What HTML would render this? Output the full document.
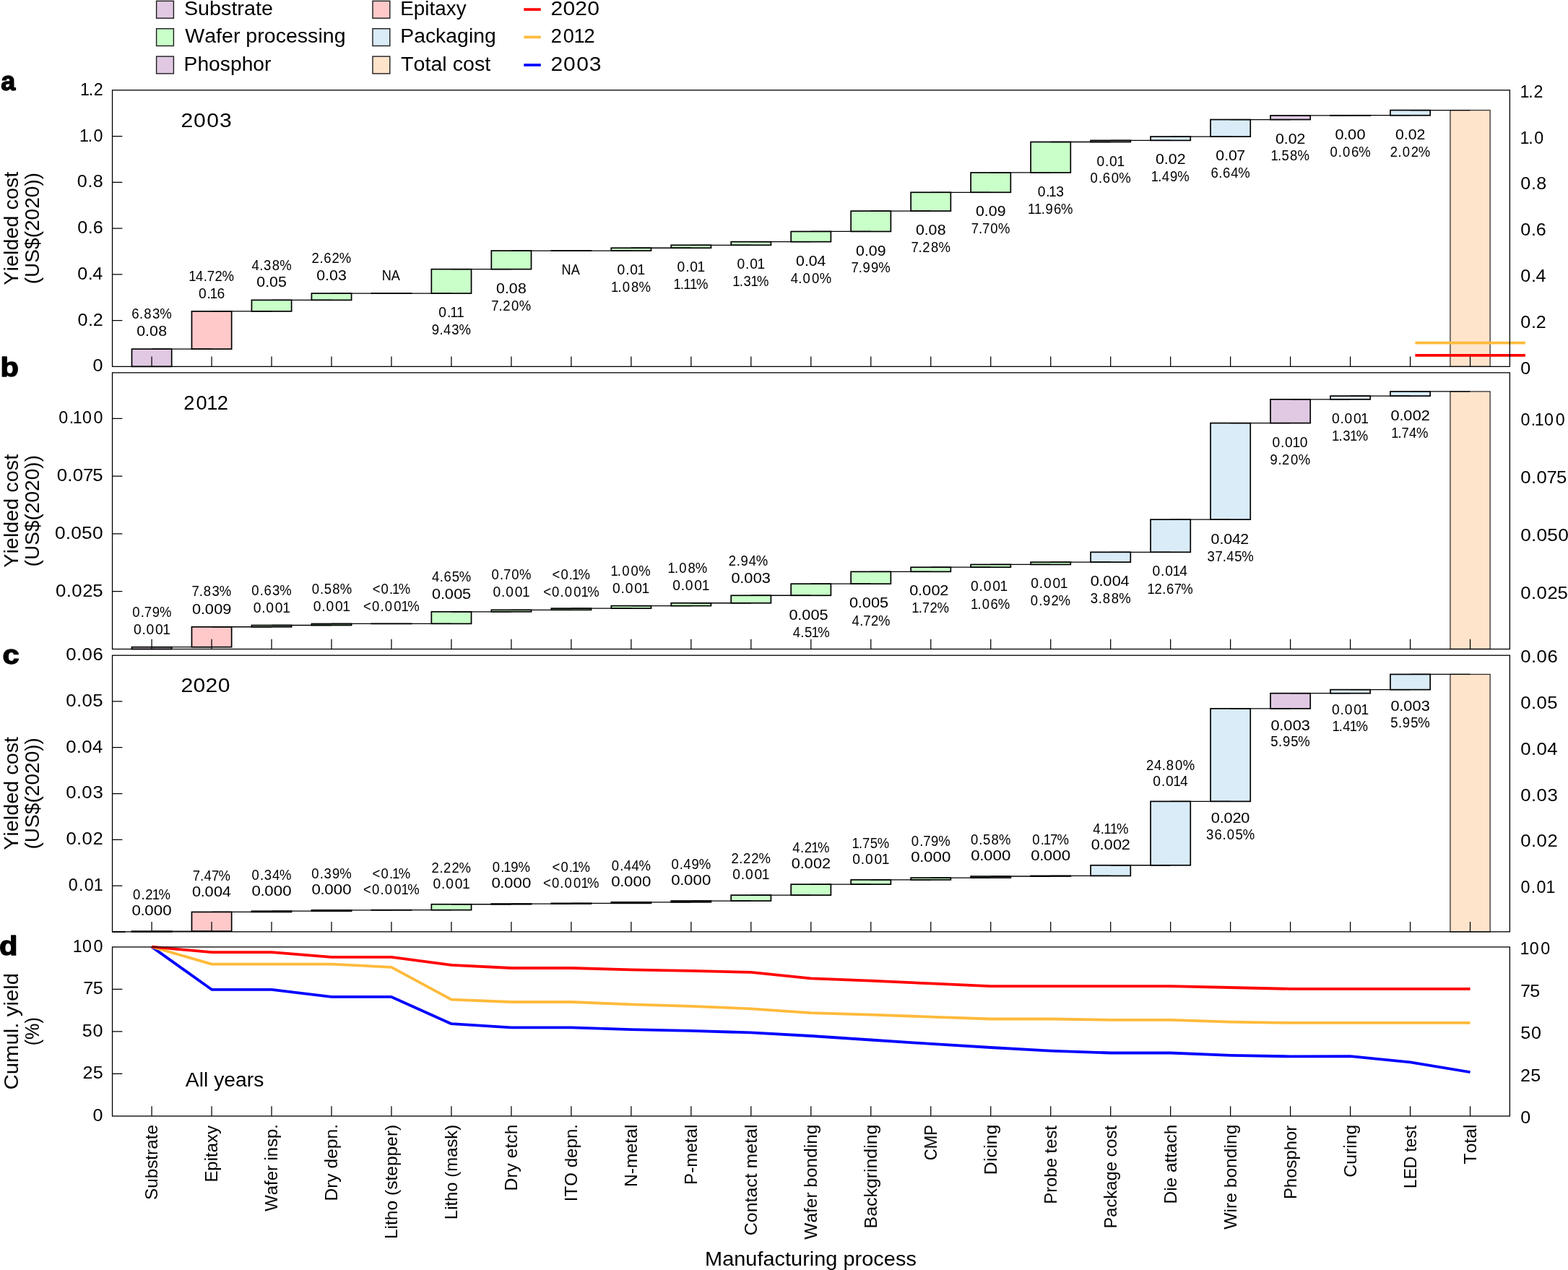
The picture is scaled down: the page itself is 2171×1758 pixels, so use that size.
<!DOCTYPE html>
<html lang="en">
<head>
<meta charset="utf-8">
<title>LED manufacturing cost waterfall by process step</title>
<style>
html,body{margin:0;padding:0;background:#fff;}
body{width:2171px;height:1758px;overflow:hidden;}
svg{display:block;}
text{font-family:"Liberation Sans", sans-serif;fill:#000;white-space:pre;}
</style>
</head>
<body>
<svg width="2171" height="1758" viewBox="0 0 2171 1758">
<rect x="0" y="0" width="2171" height="1758" fill="#fff"/>
<rect x="216.60" y="1.40" width="23.8" height="23.8" fill="#e1c9e3" stroke="#1c1c1c" stroke-width="1.4"/>
<rect x="216.60" y="39.70" width="23.8" height="23.8" fill="#c9ffc9" stroke="#1c1c1c" stroke-width="1.4"/>
<rect x="216.60" y="78.10" width="23.8" height="23.8" fill="#e1c9e3" stroke="#1c1c1c" stroke-width="1.4"/>
<rect x="516.00" y="1.40" width="23.8" height="23.8" fill="#ffc9c9" stroke="#1c1c1c" stroke-width="1.4"/>
<rect x="516.00" y="39.70" width="23.8" height="23.8" fill="#d9ecf8" stroke="#1c1c1c" stroke-width="1.4"/>
<rect x="516.00" y="78.10" width="23.8" height="23.8" fill="#ffe4cc" stroke="#1c1c1c" stroke-width="1.4"/>
<text x="242.19 260.40 275.58 290.76 304.41 312.00 321.09 336.27 343.86" y="20.90" font-size="27.3" transform="scale(1.0525 1)">Substrate</text>
<text x="244.71 270.48 285.66 293.24 308.43 317.52 325.10 340.29 349.38 364.56 378.21 393.39 407.04 420.69 426.76 441.94" y="59.30" font-size="27.3" transform="scale(1.0469 1)">Wafer processing</text>
<text x="246.12 264.33 279.51 294.69 308.34 323.52 338.71 353.89" y="97.70" font-size="27.3" transform="scale(1.0344 1)">Phosphor</text>
<text x="543.21 561.41 576.60 582.66 590.25 605.43 619.08" y="20.90" font-size="27.3" transform="scale(1.0203 1)">Epitaxy</text>
<text x="532.98 551.19 566.37 580.02 593.67 608.85 624.04 630.10 645.29" y="59.30" font-size="27.3" transform="scale(1.0398 1)">Packaging</text>
<text x="528.13 544.81 559.99 567.58 582.76 588.83 596.41 610.06 625.24 638.89" y="97.70" font-size="27.3" transform="scale(1.0508 1)">Total cost</text>
<text x="717.83 733.78 749.73 765.68" y="20.90" font-size="28.4" transform="scale(1.0622 1)">2020</text>
<text x="793.36 811.09 826.41 841.17" y="59.30" font-size="28.4" transform="scale(0.9613 1)">2012</text>
<text x="717.83 734.26 751.48 768.07" y="97.70" font-size="28.4" transform="scale(1.0622 1)">2003</text>
<line x1="725.3" x2="748.8" y1="13.1" y2="13.1" stroke="#ff0000" stroke-width="3.7"/>
<line x1="725.3" x2="748.8" y1="51.4" y2="51.4" stroke="#ffba3b" stroke-width="3.7"/>
<line x1="725.3" x2="748.8" y1="90.0" y2="90.0" stroke="#0000ff" stroke-width="3.7"/>
<rect x="182.48" y="483.16" width="55.2" height="24.24" fill="#e1c9e3" stroke="#000" stroke-width="1.7"/>
<rect x="265.46" y="430.93" width="55.2" height="52.23" fill="#ffc9c9" stroke="#000" stroke-width="1.7"/>
<rect x="348.43" y="415.39" width="55.2" height="15.54" fill="#c9ffc9" stroke="#000" stroke-width="1.7"/>
<rect x="431.41" y="406.09" width="55.2" height="9.30" fill="#c9ffc9" stroke="#000" stroke-width="1.7"/>
<rect x="514.38" y="406.09" width="55.2" height="0.01" fill="#c9ffc9" stroke="#000" stroke-width="1.7"/>
<rect x="597.36" y="372.63" width="55.2" height="33.46" fill="#c9ffc9" stroke="#000" stroke-width="1.7"/>
<rect x="680.34" y="347.08" width="55.2" height="25.55" fill="#c9ffc9" stroke="#000" stroke-width="1.7"/>
<rect x="763.31" y="347.08" width="55.2" height="0.01" fill="#c9ffc9" stroke="#000" stroke-width="1.7"/>
<rect x="846.29" y="343.25" width="55.2" height="3.83" fill="#c9ffc9" stroke="#000" stroke-width="1.7"/>
<rect x="929.26" y="339.31" width="55.2" height="3.94" fill="#c9ffc9" stroke="#000" stroke-width="1.7"/>
<rect x="1012.24" y="334.66" width="55.2" height="4.65" fill="#c9ffc9" stroke="#000" stroke-width="1.7"/>
<rect x="1095.22" y="320.47" width="55.2" height="14.19" fill="#c9ffc9" stroke="#000" stroke-width="1.7"/>
<rect x="1178.19" y="292.11" width="55.2" height="28.35" fill="#c9ffc9" stroke="#000" stroke-width="1.7"/>
<rect x="1261.17" y="266.28" width="55.2" height="25.83" fill="#c9ffc9" stroke="#000" stroke-width="1.7"/>
<rect x="1344.14" y="238.96" width="55.2" height="27.32" fill="#c9ffc9" stroke="#000" stroke-width="1.7"/>
<rect x="1427.12" y="196.52" width="55.2" height="42.44" fill="#c9ffc9" stroke="#000" stroke-width="1.7"/>
<rect x="1510.10" y="194.39" width="55.2" height="2.13" fill="#d9ecf8" stroke="#000" stroke-width="1.7"/>
<rect x="1593.07" y="189.10" width="55.2" height="5.29" fill="#d9ecf8" stroke="#000" stroke-width="1.7"/>
<rect x="1676.05" y="165.54" width="55.2" height="23.56" fill="#d9ecf8" stroke="#000" stroke-width="1.7"/>
<rect x="1759.02" y="159.93" width="55.2" height="5.61" fill="#e1c9e3" stroke="#000" stroke-width="1.7"/>
<rect x="1842.00" y="159.72" width="55.2" height="0.21" fill="#d9ecf8" stroke="#000" stroke-width="1.7"/>
<rect x="1924.98" y="152.55" width="55.2" height="7.17" fill="#d9ecf8" stroke="#000" stroke-width="1.7"/>
<rect x="2007.95" y="152.55" width="55.2" height="354.85" fill="#ffe4cc" stroke="#35312e" stroke-width="1.3"/>
<path d="M210.08 483.16H293.06M293.06 430.93H376.03M376.03 415.39H459.01M459.01 406.09H541.98M541.98 406.09H624.96M624.96 372.63H707.94M707.94 347.08H790.91M790.91 347.08H873.89M873.89 343.25H956.86M956.86 339.31H1039.84M1039.84 334.66H1122.82M1122.82 320.47H1205.79M1205.79 292.11H1288.77M1288.77 266.28H1371.74M1371.74 238.96H1454.72M1454.72 196.52H1537.70M1537.70 194.39H1620.67M1620.67 189.10H1703.65M1703.65 165.54H1786.62M1786.62 159.93H1869.60M1869.60 159.72H1952.58M1952.58 152.55H2035.55" stroke="#000" stroke-width="1.3" fill="none"/>
<text x="189.83 201.18 207.44 219.72 230.38" y="441.41" font-size="19.3" transform="scale(0.9600 1)">6.83%</text>
<text x="171.25 181.94 187.25 198.34" y="465.21" font-size="19.3" transform="scale(1.1050 1)">0.08</text>
<text x="272.22 282.33 293.42 298.69 309.84 320.37" y="389.18" font-size="19.3" transform="scale(0.9600 1)">14.72%</text>
<text x="275.01 286.54 290.50 300.46" y="412.98" font-size="19.3">0.16</text>
<text x="363.10 374.18 380.23 392.52 403.39" y="373.64" font-size="19.3" transform="scale(0.9600 1)">4.38%</text>
<text x="321.60 332.29 337.61 348.32" y="397.44" font-size="19.3" transform="scale(1.1050 1)">0.05</text>
<text x="449.58 460.88 466.85 478.71 489.24" y="364.34" font-size="19.3" transform="scale(0.9600 1)">2.62%</text>
<text x="396.62 407.31 412.62 423.52" y="388.14" font-size="19.3" transform="scale(1.1050 1)">0.03</text>
<text x="562.40 576.34" y="388.14" font-size="19.3" transform="scale(0.9400 1)">NA</text>
<text x="607.36 618.89 623.14 632.01" y="439.14" font-size="19.3">0.11</text>
<text x="622.55 633.97 639.68 651.41 662.07" y="463.04" font-size="19.3" transform="scale(0.9600 1)">9.43%</text>
<text x="621.80 632.49 637.80 648.88" y="405.68" font-size="19.3" transform="scale(1.1050 1)">0.08</text>
<text x="708.65 719.29 725.21 737.63 748.76" y="429.58" font-size="19.3" transform="scale(0.9600 1)">7.20%</text>
<text x="827.22 841.16" y="380.13" font-size="19.3" transform="scale(0.9400 1)">NA</text>
<text x="854.62 866.15 872.31 882.61" y="380.13" font-size="19.3">0.01</text>
<text x="881.35 891.16 897.68 910.44 921.31" y="404.03" font-size="19.3" transform="scale(0.9600 1)">1.08%</text>
<text x="937.60 949.13 955.28 965.58" y="376.30" font-size="19.3">0.01</text>
<text x="971.30 981.11 985.64 994.88 1004.22" y="400.20" font-size="19.3" transform="scale(0.9600 1)">1.11%</text>
<text x="1020.58 1032.10 1038.26 1048.56" y="372.36" font-size="19.3">0.01</text>
<text x="1056.62 1066.42 1072.48 1082.73 1091.77" y="396.26" font-size="19.3" transform="scale(0.9600 1)">1.31%</text>
<text x="997.36 1008.05 1013.36 1023.97" y="367.71" font-size="19.3" transform="scale(1.1050 1)">0.04</text>
<text x="1140.26 1151.35 1157.87 1170.89 1182.02" y="391.61" font-size="19.3" transform="scale(0.9600 1)">4.00%</text>
<text x="1072.48 1083.17 1088.48 1099.37" y="353.52" font-size="19.3" transform="scale(1.1050 1)">0.09</text>
<text x="1227.61 1238.25 1244.29 1256.35 1266.99" y="377.42" font-size="19.3" transform="scale(0.9600 1)">7.99%</text>
<text x="1147.44 1158.13 1163.44 1174.52" y="325.16" font-size="19.3" transform="scale(1.1050 1)">0.08</text>
<text x="1313.94 1324.58 1330.51 1342.66 1353.53" y="349.06" font-size="19.3" transform="scale(0.9600 1)">7.28%</text>
<text x="1222.66 1233.35 1238.67 1249.56" y="299.33" font-size="19.3" transform="scale(1.1050 1)">0.09</text>
<text x="1400.77 1411.41 1416.68 1428.44 1439.57" y="323.23" font-size="19.3" transform="scale(0.9600 1)">7.70%</text>
<text x="1436.64 1448.17 1452.12 1462.16" y="272.01" font-size="19.3">0.13</text>
<text x="1482.39 1491.63 1501.74 1507.78 1519.76 1530.34" y="295.91" font-size="19.3" transform="scale(0.9600 1)">11.96%</text>
<text x="1518.43 1529.96 1536.12 1546.41" y="229.57" font-size="19.3">0.01</text>
<text x="1572.42 1584.32 1590.29 1602.76 1613.88" y="253.47" font-size="19.3" transform="scale(0.9600 1)">0.60%</text>
<text x="1448.02 1458.71 1464.02 1474.81" y="227.44" font-size="19.3" transform="scale(1.1050 1)">0.02</text>
<text x="1660.28 1670.09 1675.80 1687.52 1698.17" y="251.34" font-size="19.3" transform="scale(0.9600 1)">1.49%</text>
<text x="1523.39 1534.08 1539.40 1549.62" y="222.15" font-size="19.3" transform="scale(1.1050 1)">0.07</text>
<text x="1746.26 1757.61 1763.58 1775.23 1785.55" y="246.05" font-size="19.3" transform="scale(0.9600 1)">6.64%</text>
<text x="1598.20 1608.89 1614.20 1624.99" y="198.59" font-size="19.3" transform="scale(1.1050 1)">0.02</text>
<text x="1832.80 1842.61 1848.45 1860.52 1871.39" y="222.49" font-size="19.3" transform="scale(0.9600 1)">1.58%</text>
<text x="1635.79 1646.30 1651.44 1662.50" y="192.98" font-size="19.3" transform="scale(1.1300 1)">0.00</text>
<text x="1918.15 1930.05 1936.58 1949.04 1959.62" y="216.88" font-size="19.3" transform="scale(0.9600 1)">0.06%</text>
<text x="1748.38 1759.07 1764.39 1775.17" y="192.77" font-size="19.3" transform="scale(1.1050 1)">0.02</text>
<text x="2004.83 2016.13 2022.65 2035.06 2045.59" y="216.67" font-size="19.3" transform="scale(0.9600 1)">2.02%</text>
<rect x="182.48" y="895.68" width="55.2" height="2.82" fill="#e1c9e3" stroke="#000" stroke-width="1.7"/>
<rect x="265.46" y="867.77" width="55.2" height="27.92" fill="#ffc9c9" stroke="#000" stroke-width="1.7"/>
<rect x="348.43" y="865.52" width="55.2" height="2.25" fill="#c9ffc9" stroke="#000" stroke-width="1.7"/>
<rect x="431.41" y="863.45" width="55.2" height="2.07" fill="#c9ffc9" stroke="#000" stroke-width="1.7"/>
<rect x="514.38" y="863.38" width="55.2" height="0.07" fill="#c9ffc9" stroke="#000" stroke-width="1.7"/>
<rect x="597.36" y="846.80" width="55.2" height="16.58" fill="#c9ffc9" stroke="#000" stroke-width="1.7"/>
<rect x="680.34" y="844.30" width="55.2" height="2.50" fill="#c9ffc9" stroke="#000" stroke-width="1.7"/>
<rect x="763.31" y="842.17" width="55.2" height="2.14" fill="#c9ffc9" stroke="#000" stroke-width="1.7"/>
<rect x="846.29" y="838.60" width="55.2" height="3.57" fill="#c9ffc9" stroke="#000" stroke-width="1.7"/>
<rect x="929.26" y="834.75" width="55.2" height="3.85" fill="#c9ffc9" stroke="#000" stroke-width="1.7"/>
<rect x="1012.24" y="824.27" width="55.2" height="10.48" fill="#c9ffc9" stroke="#000" stroke-width="1.7"/>
<rect x="1095.22" y="808.19" width="55.2" height="16.08" fill="#c9ffc9" stroke="#000" stroke-width="1.7"/>
<rect x="1178.19" y="791.36" width="55.2" height="16.83" fill="#c9ffc9" stroke="#000" stroke-width="1.7"/>
<rect x="1261.17" y="785.22" width="55.2" height="6.13" fill="#c9ffc9" stroke="#000" stroke-width="1.7"/>
<rect x="1344.14" y="781.44" width="55.2" height="3.78" fill="#c9ffc9" stroke="#000" stroke-width="1.7"/>
<rect x="1427.12" y="778.16" width="55.2" height="3.28" fill="#c9ffc9" stroke="#000" stroke-width="1.7"/>
<rect x="1510.10" y="764.33" width="55.2" height="13.83" fill="#d9ecf8" stroke="#000" stroke-width="1.7"/>
<rect x="1593.07" y="719.16" width="55.2" height="45.17" fill="#d9ecf8" stroke="#000" stroke-width="1.7"/>
<rect x="1676.05" y="585.63" width="55.2" height="133.53" fill="#d9ecf8" stroke="#000" stroke-width="1.7"/>
<rect x="1759.02" y="552.82" width="55.2" height="32.80" fill="#e1c9e3" stroke="#000" stroke-width="1.7"/>
<rect x="1842.00" y="548.15" width="55.2" height="4.67" fill="#d9ecf8" stroke="#000" stroke-width="1.7"/>
<rect x="1924.98" y="541.95" width="55.2" height="6.20" fill="#d9ecf8" stroke="#000" stroke-width="1.7"/>
<rect x="2007.95" y="541.95" width="55.2" height="356.55" fill="#ffe4cc" stroke="#35312e" stroke-width="1.3"/>
<path d="M210.08 895.68H293.06M293.06 867.77H376.03M376.03 865.52H459.01M459.01 863.45H541.98M541.98 863.38H624.96M624.96 846.80H707.94M707.94 844.30H790.91M790.91 842.17H873.89M873.89 838.60H956.86M956.86 834.75H1039.84M1039.84 824.27H1122.82M1122.82 808.19H1205.79M1205.79 791.36H1288.77M1288.77 785.22H1371.74M1371.74 781.44H1454.72M1454.72 778.16H1537.70M1537.70 764.33H1620.67M1620.67 719.16H1703.65M1703.65 585.63H1786.62M1786.62 552.82H1869.60M1869.60 548.15H1952.58M1952.58 541.95H2035.55" stroke="#000" stroke-width="1.3" fill="none"/>
<text x="191.01 202.90 208.17 219.45 230.10" y="853.95" font-size="19.3" transform="scale(0.9600 1)">0.79%</text>
<text x="184.89 196.42 202.57 215.07 225.37" y="877.85" font-size="19.3">0.001</text>
<text x="276.66 287.30 293.56 305.85 316.50" y="825.45" font-size="19.3" transform="scale(0.9600 1)">7.83%</text>
<text x="235.41 245.93 251.06 262.12 272.77" y="849.55" font-size="19.3" transform="scale(1.1300 1)">0.009</text>
<text x="362.79 374.69 380.66 392.66 403.31" y="823.75" font-size="19.3" transform="scale(0.9600 1)">0.63%</text>
<text x="350.69 362.22 368.37 380.87 391.17" y="847.65" font-size="19.3">0.001</text>
<text x="449.69 461.59 467.43 479.50 490.37" y="821.85" font-size="19.3" transform="scale(0.9600 1)">0.58%</text>
<text x="433.79 445.32 451.47 463.97 474.27" y="845.75" font-size="19.3">0.001</text>
<text x="537.19 549.59 561.49 565.72 574.76" y="821.85" font-size="19.3" transform="scale(0.9600 1)">&lt;0.1%</text>
<text x="524.07 536.47 548.37 554.89 567.91 578.63 587.68" y="845.75" font-size="19.3" transform="scale(0.9600 1)">&lt;0.001%</text>
<text x="623.05 634.13 640.10 651.88 662.33" y="804.85" font-size="19.3" transform="scale(0.9600 1)">4.65%</text>
<text x="529.25 539.76 544.90 555.96 566.44" y="828.75" font-size="19.3" transform="scale(1.1300 1)">0.005</text>
<text x="708.86 720.75 726.02 737.79 748.92" y="801.65" font-size="19.3" transform="scale(0.9600 1)">0.70%</text>
<text x="682.49 694.02 700.17 712.67 722.97" y="825.65" font-size="19.3">0.001</text>
<text x="796.36 808.76 820.65 824.89 833.93" y="801.65" font-size="19.3" transform="scale(0.9600 1)">&lt;0.1%</text>
<text x="783.55 795.95 807.84 814.37 827.39 838.11 847.15" y="825.65" font-size="19.3" transform="scale(0.9600 1)">&lt;0.001%</text>
<text x="880.68 890.49 897.02 910.03 921.16" y="796.55" font-size="19.3" transform="scale(0.9600 1)">1.00%</text>
<text x="848.09 859.62 865.77 878.27 888.57" y="820.55" font-size="19.3">0.001</text>
<text x="963.03 972.84 979.36 992.12 1002.99" y="792.85" font-size="19.3" transform="scale(0.9600 1)">1.08%</text>
<text x="931.19 942.72 948.87 961.37 971.67" y="816.75" font-size="19.3">0.001</text>
<text x="1050.86 1062.16 1068.20 1079.92 1090.24" y="782.65" font-size="19.3" transform="scale(0.9600 1)">2.94%</text>
<text x="896.00 906.51 911.65 922.71 933.36" y="806.75" font-size="19.3" transform="scale(1.1300 1)">0.003</text>
<text x="966.78 977.29 982.43 993.48 1003.96" y="857.85" font-size="19.3" transform="scale(1.1300 1)">0.005</text>
<text x="1143.43 1154.52 1160.36 1170.40 1179.44" y="882.15" font-size="19.3" transform="scale(0.9600 1)">4.51%</text>
<text x="1040.67 1051.18 1056.32 1067.38 1077.86" y="841.45" font-size="19.3" transform="scale(1.1300 1)">0.005</text>
<text x="1228.67 1239.75 1245.02 1256.18 1266.71" y="865.65" font-size="19.3" transform="scale(0.9600 1)">4.72%</text>
<text x="1114.34 1124.85 1129.99 1141.05 1151.60" y="824.45" font-size="19.3" transform="scale(1.1300 1)">0.002</text>
<text x="1314.83 1324.64 1329.91 1341.07 1351.60" y="848.45" font-size="19.3" transform="scale(0.9600 1)">1.72%</text>
<text x="1344.09 1355.62 1361.77 1374.27 1384.57" y="818.15" font-size="19.3">0.001</text>
<text x="1399.99 1409.79 1416.32 1428.78 1439.36" y="842.65" font-size="19.3" transform="scale(0.9600 1)">1.06%</text>
<text x="1427.29 1438.82 1444.97 1457.47 1467.77" y="814.45" font-size="19.3">0.001</text>
<text x="1486.19 1498.08 1504.13 1516.06 1526.59" y="838.35" font-size="19.3" transform="scale(0.9600 1)">0.92%</text>
<text x="1336.00 1346.51 1351.65 1362.71 1373.08" y="811.25" font-size="19.3" transform="scale(1.1300 1)">0.004</text>
<text x="1572.75 1584.17 1590.43 1602.93 1613.80" y="835.45" font-size="19.3" transform="scale(0.9600 1)">3.88%</text>
<text x="1595.59 1607.12 1613.28 1623.58 1633.29" y="797.45" font-size="19.3">0.014</text>
<text x="1654.71 1665.04 1676.33 1682.30 1693.51 1703.39" y="821.55" font-size="19.3" transform="scale(0.9600 1)">12.67%</text>
<text x="1517.30 1527.99 1533.31 1543.91 1553.99" y="752.85" font-size="19.3" transform="scale(1.1050 1)">0.042</text>
<text x="1741.28 1752.57 1763.21 1768.92 1780.44 1790.89" y="777.05" font-size="19.3" transform="scale(0.9600 1)">37.45%</text>
<text x="1761.40 1772.92 1779.08 1789.38 1799.87" y="618.85" font-size="19.3">0.010</text>
<text x="1831.70 1843.12 1849.04 1861.46 1872.58" y="642.95" font-size="19.3" transform="scale(0.9600 1)">9.20%</text>
<text x="1843.89 1855.42 1861.57 1874.07 1884.37" y="585.85" font-size="19.3">0.001</text>
<text x="1920.85 1930.65 1936.71 1946.96 1956.00" y="610.05" font-size="19.3" transform="scale(0.9600 1)">1.31%</text>
<text x="1704.08 1714.59 1719.73 1730.79 1741.33" y="581.85" font-size="19.3" transform="scale(1.1300 1)">0.002</text>
<text x="2006.40 2016.21 2021.48 2032.42 2042.74" y="606.15" font-size="19.3" transform="scale(0.9600 1)">1.74%</text>
<rect x="182.48" y="1289.05" width="55.2" height="0.75" fill="#e1c9e3" stroke="#000" stroke-width="1.7"/>
<rect x="265.46" y="1262.43" width="55.2" height="26.62" fill="#ffc9c9" stroke="#000" stroke-width="1.7"/>
<rect x="348.43" y="1261.22" width="55.2" height="1.21" fill="#c9ffc9" stroke="#000" stroke-width="1.7"/>
<rect x="431.41" y="1259.83" width="55.2" height="1.39" fill="#c9ffc9" stroke="#000" stroke-width="1.7"/>
<rect x="514.38" y="1259.65" width="55.2" height="0.18" fill="#c9ffc9" stroke="#000" stroke-width="1.7"/>
<rect x="597.36" y="1251.74" width="55.2" height="7.91" fill="#c9ffc9" stroke="#000" stroke-width="1.7"/>
<rect x="680.34" y="1251.06" width="55.2" height="0.68" fill="#c9ffc9" stroke="#000" stroke-width="1.7"/>
<rect x="763.31" y="1250.35" width="55.2" height="0.71" fill="#c9ffc9" stroke="#000" stroke-width="1.7"/>
<rect x="846.29" y="1248.78" width="55.2" height="1.57" fill="#c9ffc9" stroke="#000" stroke-width="1.7"/>
<rect x="929.26" y="1247.03" width="55.2" height="1.75" fill="#c9ffc9" stroke="#000" stroke-width="1.7"/>
<rect x="1012.24" y="1239.12" width="55.2" height="7.91" fill="#c9ffc9" stroke="#000" stroke-width="1.7"/>
<rect x="1095.22" y="1224.12" width="55.2" height="15.00" fill="#c9ffc9" stroke="#000" stroke-width="1.7"/>
<rect x="1178.19" y="1217.88" width="55.2" height="6.24" fill="#c9ffc9" stroke="#000" stroke-width="1.7"/>
<rect x="1261.17" y="1215.07" width="55.2" height="2.82" fill="#c9ffc9" stroke="#000" stroke-width="1.7"/>
<rect x="1344.14" y="1213.00" width="55.2" height="2.07" fill="#c9ffc9" stroke="#000" stroke-width="1.7"/>
<rect x="1427.12" y="1212.39" width="55.2" height="0.61" fill="#c9ffc9" stroke="#000" stroke-width="1.7"/>
<rect x="1510.10" y="1197.75" width="55.2" height="14.65" fill="#d9ecf8" stroke="#000" stroke-width="1.7"/>
<rect x="1593.07" y="1109.36" width="55.2" height="88.38" fill="#d9ecf8" stroke="#000" stroke-width="1.7"/>
<rect x="1676.05" y="980.88" width="55.2" height="128.48" fill="#d9ecf8" stroke="#000" stroke-width="1.7"/>
<rect x="1759.02" y="959.68" width="55.2" height="21.20" fill="#e1c9e3" stroke="#000" stroke-width="1.7"/>
<rect x="1842.00" y="954.65" width="55.2" height="5.03" fill="#d9ecf8" stroke="#000" stroke-width="1.7"/>
<rect x="1924.98" y="933.45" width="55.2" height="21.20" fill="#d9ecf8" stroke="#000" stroke-width="1.7"/>
<rect x="2007.95" y="933.45" width="55.2" height="356.35" fill="#ffe4cc" stroke="#35312e" stroke-width="1.3"/>
<path d="M210.08 1289.05H293.06M293.06 1262.43H376.03M376.03 1261.22H459.01M459.01 1259.83H541.98M541.98 1259.65H624.96M624.96 1251.74H707.94M707.94 1251.06H790.91M790.91 1250.35H873.89M873.89 1248.78H956.86M956.86 1247.03H1039.84M1039.84 1239.12H1122.82M1122.82 1224.12H1205.79M1205.79 1217.88H1288.77M1288.77 1215.07H1371.74M1371.74 1213.00H1454.72M1454.72 1212.39H1537.70M1537.70 1197.75H1620.67M1620.67 1109.36H1703.65M1703.65 980.88H1786.62M1786.62 959.68H1869.60M1869.60 954.65H1952.58M1952.58 933.45H2035.55" stroke="#000" stroke-width="1.3" fill="none"/>
<text x="191.73 203.62 209.55 219.67 228.71" y="1245.40" font-size="19.3" transform="scale(0.9600 1)">0.21%</text>
<text x="158.05 168.39 173.36 184.18 195.00" y="1267.40" font-size="19.3" transform="scale(1.1550 1)">0.000</text>
<text x="277.95 288.59 294.30 305.25 315.12" y="1218.78" font-size="19.3" transform="scale(0.9600 1)">7.47%</text>
<text x="235.34 245.85 250.99 262.05 272.42" y="1240.78" font-size="19.3" transform="scale(1.1300 1)">0.004</text>
<text x="363.09 374.98 381.04 392.77 403.09" y="1217.57" font-size="19.3" transform="scale(0.9600 1)">0.34%</text>
<text x="301.73 312.07 317.04 327.86 338.68" y="1239.57" font-size="19.3" transform="scale(1.1550 1)">0.000</text>
<text x="449.19 461.09 467.14 479.20 489.85" y="1216.18" font-size="19.3" transform="scale(0.9600 1)">0.39%</text>
<text x="373.57 383.91 388.88 399.70 410.52" y="1238.18" font-size="19.3" transform="scale(1.1550 1)">0.000</text>
<text x="537.07 549.47 561.37 565.60 574.64" y="1216.00" font-size="19.3" transform="scale(0.9600 1)">&lt;0.1%</text>
<text x="524.05 536.45 548.35 554.87 567.89 578.62 587.66" y="1238.00" font-size="19.3" transform="scale(0.9600 1)">&lt;0.001%</text>
<text x="622.50 633.79 639.72 651.53 662.06" y="1208.09" font-size="19.3" transform="scale(0.9600 1)">2.22%</text>
<text x="599.45 610.98 617.13 629.63 639.93" y="1230.09" font-size="19.3">0.001</text>
<text x="710.21 722.10 726.34 736.78 747.43" y="1207.41" font-size="19.3" transform="scale(0.9600 1)">0.19%</text>
<text x="589.09 599.43 604.40 615.22 626.04" y="1229.41" font-size="19.3" transform="scale(1.1550 1)">0.000</text>
<text x="796.37 808.77 820.67 824.90 833.94" y="1206.70" font-size="19.3" transform="scale(0.9600 1)">&lt;0.1%</text>
<text x="783.35 795.75 807.65 814.17 827.19 837.92 846.96" y="1228.70" font-size="19.3" transform="scale(0.9600 1)">&lt;0.001%</text>
<text x="882.03 893.93 899.64 911.03 921.34" y="1205.13" font-size="19.3" transform="scale(0.9600 1)">0.44%</text>
<text x="732.77 743.11 748.08 758.90 769.72" y="1227.13" font-size="19.3" transform="scale(1.1550 1)">0.000</text>
<text x="968.13 980.03 985.74 997.46 1008.11" y="1203.38" font-size="19.3" transform="scale(0.9600 1)">0.49%</text>
<text x="804.61 814.95 819.92 830.74 841.56" y="1225.38" font-size="19.3" transform="scale(1.1550 1)">0.000</text>
<text x="1054.67 1065.96 1071.88 1083.70 1094.22" y="1195.47" font-size="19.3" transform="scale(0.9600 1)">2.22%</text>
<text x="1014.33 1025.86 1032.01 1044.51 1054.81" y="1217.47" font-size="19.3">0.001</text>
<text x="1143.06 1154.14 1160.06 1170.19 1179.23" y="1180.47" font-size="19.3" transform="scale(0.9600 1)">4.21%</text>
<text x="969.76 980.27 985.41 996.46 1007.01" y="1202.47" font-size="19.3" transform="scale(1.1300 1)">0.002</text>
<text x="1228.76 1238.57 1243.84 1254.92 1265.36" y="1174.23" font-size="19.3" transform="scale(0.9600 1)">1.75%</text>
<text x="1180.28 1191.81 1197.96 1210.46 1220.76" y="1196.23" font-size="19.3">0.001</text>
<text x="1314.31 1326.20 1331.47 1342.75 1353.40" y="1171.42" font-size="19.3" transform="scale(0.9600 1)">0.79%</text>
<text x="1091.97 1102.32 1107.29 1118.11 1128.92" y="1193.42" font-size="19.3" transform="scale(1.1550 1)">0.000</text>
<text x="1399.95 1411.84 1417.68 1429.76 1440.63" y="1169.35" font-size="19.3" transform="scale(0.9600 1)">0.58%</text>
<text x="1163.82 1174.16 1179.13 1189.95 1200.77" y="1191.35" font-size="19.3" transform="scale(1.1550 1)">0.000</text>
<text x="1488.88 1500.78 1505.01 1514.68 1524.56" y="1168.74" font-size="19.3" transform="scale(0.9600 1)">0.17%</text>
<text x="1235.66 1246.00 1250.97 1261.79 1272.61" y="1190.74" font-size="19.3" transform="scale(1.1550 1)">0.000</text>
<text x="1576.21 1587.29 1591.83 1601.07 1610.41" y="1154.10" font-size="19.3" transform="scale(0.9600 1)">4.11%</text>
<text x="1336.91 1347.42 1352.56 1363.62 1374.16" y="1176.10" font-size="19.3" transform="scale(1.1300 1)">0.002</text>
<text x="1653.06 1664.66 1675.75 1682.01 1694.77 1705.90" y="1065.71" font-size="19.3" transform="scale(0.9600 1)">24.80%</text>
<text x="1596.36 1607.89 1614.05 1624.35 1634.06" y="1087.71" font-size="19.3">0.014</text>
<text x="1483.91 1494.43 1499.56 1510.11 1520.66" y="1139.11" font-size="19.3" transform="scale(1.1300 1)">0.020</text>
<text x="1739.71 1751.70 1763.04 1769.57 1781.90 1792.35" y="1161.71" font-size="19.3" transform="scale(0.9600 1)">36.05%</text>
<text x="1557.08 1567.59 1572.73 1583.79 1594.45" y="1010.63" font-size="19.3" transform="scale(1.1300 1)">0.003</text>
<text x="1832.67 1843.88 1849.92 1861.77 1872.22" y="1033.23" font-size="19.3" transform="scale(0.9600 1)">5.95%</text>
<text x="1844.09 1855.62 1861.77 1874.27 1884.57" y="989.43" font-size="19.3">0.001</text>
<text x="1921.29 1931.10 1936.81 1946.72 1955.76" y="1012.03" font-size="19.3" transform="scale(0.9600 1)">1.41%</text>
<text x="1703.94 1714.45 1719.59 1730.65 1741.31" y="984.40" font-size="19.3" transform="scale(1.1300 1)">0.003</text>
<text x="2005.53 2016.75 2022.79 2034.64 2045.09" y="1007.00" font-size="19.3" transform="scale(0.9600 1)">5.95%</text>
<line x1="1959.4" x2="2112" y1="474.6" y2="474.6" stroke="#ffba3b" stroke-width="3.75"/>
<line x1="1959.4" x2="2112" y1="491.9" y2="491.9" stroke="#ff0000" stroke-width="3.75"/>
<polyline points="210.08,1310.60 293.06,1369.80 376.03,1369.80 459.01,1379.90 541.98,1379.90 624.96,1417.20 707.94,1422.30 790.91,1422.30 873.89,1425.20 956.86,1426.90 1039.84,1429.40 1122.82,1434.00 1205.79,1439.50 1288.77,1444.90 1371.74,1450.00 1454.72,1454.60 1537.70,1457.50 1620.67,1457.50 1703.65,1460.80 1786.62,1462.40 1869.60,1462.20 1952.58,1470.30 2035.55,1484.10" fill="none" stroke="#0000ff" stroke-width="3.8" stroke-linejoin="round"/>
<polyline points="210.08,1310.60 293.06,1334.60 376.03,1334.60 459.01,1334.60 541.98,1338.80 624.96,1383.70 707.94,1387.00 790.91,1387.00 873.89,1390.40 956.86,1392.90 1039.84,1396.30 1122.82,1402.10 1205.79,1404.60 1288.77,1407.60 1371.74,1410.50 1454.72,1410.50 1537.70,1411.80 1620.67,1411.80 1703.65,1414.60 1786.62,1415.90 1869.60,1415.90 1952.58,1415.90 2035.55,1415.90" fill="none" stroke="#ffba3b" stroke-width="3.8" stroke-linejoin="round"/>
<polyline points="210.08,1310.60 293.06,1318.20 376.03,1318.20 459.01,1324.90 541.98,1324.90 624.96,1335.80 707.94,1340.00 790.91,1340.00 873.89,1342.30 956.86,1343.80 1039.84,1345.90 1122.82,1354.30 1205.79,1357.60 1288.77,1361.40 1371.74,1365.20 1454.72,1365.20 1537.70,1365.20 1620.67,1365.20 1703.65,1367.00 1786.62,1368.90 1869.60,1368.90 1952.58,1368.90 2035.55,1368.90" fill="none" stroke="#ff0000" stroke-width="3.8" stroke-linejoin="round"/>
<path d="M210.08 507.40v-13.8M293.06 507.40v-13.8M376.03 507.40v-13.8M459.01 507.40v-13.8M541.98 507.40v-13.8M624.96 507.40v-13.8M707.94 507.40v-13.8M790.91 507.40v-13.8M873.89 507.40v-13.8M956.86 507.40v-13.8M1039.84 507.40v-13.8M1122.82 507.40v-13.8M1205.79 507.40v-13.8M1288.77 507.40v-13.8M1371.74 507.40v-13.8M1454.72 507.40v-13.8M1537.70 507.40v-13.8M1620.67 507.40v-13.8M1703.65 507.40v-13.8M1786.62 507.40v-13.8M1869.60 507.40v-13.8M1952.58 507.40v-13.8M2035.55 507.40v-13.8M155.55 188.57h13.8M155.55 252.33h13.8M155.55 316.10h13.8M155.55 379.87h13.8M155.55 443.63h13.8" stroke="#000" stroke-width="1.25" fill="none"/>
<rect x="155.55" y="124.8" width="1934.85" height="382.60" fill="none" stroke="#000" stroke-width="1.3"/>
<text x="110.88 122.69 129.81" y="131.75" font-size="23.3">1.2</text>
<text x="109.90 121.71 129.55" y="195.52" font-size="23.3">1.0</text>
<text x="98.92 112.43 119.17" y="259.28" font-size="23.3" transform="scale(1.0800 1)">0.8</text>
<text x="99.26 112.77 119.18" y="323.05" font-size="23.3" transform="scale(1.0800 1)">0.6</text>
<text x="99.21 112.72 118.84" y="386.82" font-size="23.3" transform="scale(1.0800 1)">0.4</text>
<text x="99.46 112.97 119.32" y="450.58" font-size="23.3" transform="scale(1.0800 1)">0.2</text>
<text x="119.06" y="514.35" font-size="23.3" transform="scale(1.0800 1)">0</text>
<text x="2104.53 2116.34 2123.46" y="134.95" font-size="23.3">1.2</text>
<text x="2104.53 2116.34 2124.18" y="198.72" font-size="23.3">1.0</text>
<text x="1949.37 1962.88 1969.61" y="262.48" font-size="23.3" transform="scale(1.0800 1)">0.8</text>
<text x="1949.37 1962.88 1969.29" y="326.25" font-size="23.3" transform="scale(1.0800 1)">0.6</text>
<text x="1949.37 1962.88 1968.99" y="390.02" font-size="23.3" transform="scale(1.0800 1)">0.4</text>
<text x="1949.37 1962.88 1969.23" y="453.78" font-size="23.3" transform="scale(1.0800 1)">0.2</text>
<text x="1949.37" y="517.55" font-size="23.3" transform="scale(1.0800 1)">0</text>
<path d="M210.08 898.50v-13.8M293.06 898.50v-13.8M376.03 898.50v-13.8M459.01 898.50v-13.8M541.98 898.50v-13.8M624.96 898.50v-13.8M707.94 898.50v-13.8M790.91 898.50v-13.8M873.89 898.50v-13.8M956.86 898.50v-13.8M1039.84 898.50v-13.8M1122.82 898.50v-13.8M1205.79 898.50v-13.8M1288.77 898.50v-13.8M1371.74 898.50v-13.8M1454.72 898.50v-13.8M1537.70 898.50v-13.8M1620.67 898.50v-13.8M1703.65 898.50v-13.8M1786.62 898.50v-13.8M1869.60 898.50v-13.8M1952.58 898.50v-13.8M2035.55 898.50v-13.8M155.55 579.30h13.8M155.55 659.10h13.8M155.55 738.90h13.8M155.55 818.70h13.8" stroke="#000" stroke-width="1.25" fill="none"/>
<rect x="155.55" y="515.9" width="1934.85" height="382.60" fill="none" stroke="#000" stroke-width="1.3"/>
<text x="81.31 95.64 100.73 113.88 129.55" y="586.25" font-size="23.3">0.100</text>
<text x="71.21 84.49 91.28 104.10 116.16" y="666.05" font-size="23.3" transform="scale(1.1050 1)">0.075</text>
<text x="67.36 80.41 86.98 100.12 113.26" y="745.85" font-size="23.3" transform="scale(1.1300 1)">0.050</text>
<text x="69.79 83.07 89.86 103.38 116.16" y="825.65" font-size="23.3" transform="scale(1.1050 1)">0.025</text>
<text x="2105.39 2119.72 2124.81 2137.96 2153.64" y="589.45" font-size="23.3">0.100</text>
<text x="1905.24 1918.52 1925.31 1938.13 1950.20" y="669.25" font-size="23.3" transform="scale(1.1050 1)">0.075</text>
<text x="1863.07 1876.13 1882.70 1895.84 1908.98" y="749.05" font-size="23.3" transform="scale(1.1300 1)">0.050</text>
<text x="1905.24 1918.52 1925.31 1938.84 1951.62" y="828.85" font-size="23.3" transform="scale(1.1050 1)">0.025</text>
<path d="M210.08 1289.80v-13.8M293.06 1289.80v-13.8M376.03 1289.80v-13.8M459.01 1289.80v-13.8M541.98 1289.80v-13.8M624.96 1289.80v-13.8M707.94 1289.80v-13.8M790.91 1289.80v-13.8M873.89 1289.80v-13.8M956.86 1289.80v-13.8M1039.84 1289.80v-13.8M1122.82 1289.80v-13.8M1205.79 1289.80v-13.8M1288.77 1289.80v-13.8M1371.74 1289.80v-13.8M1454.72 1289.80v-13.8M1537.70 1289.80v-13.8M1620.67 1289.80v-13.8M1703.65 1289.80v-13.8M1786.62 1289.80v-13.8M1869.60 1289.80v-13.8M1952.58 1289.80v-13.8M2035.55 1289.80v-13.8M155.55 970.97h13.8M155.55 1034.73h13.8M155.55 1098.50h13.8M155.55 1162.27h13.8M155.55 1226.03h13.8" stroke="#000" stroke-width="1.25" fill="none"/>
<rect x="155.55" y="907.2" width="1934.85" height="382.60" fill="none" stroke="#000" stroke-width="1.3"/>
<text x="82.56 95.84 102.63 116.21" y="914.15" font-size="23.3" transform="scale(1.1050 1)">0.06</text>
<text x="82.66 95.94 102.73 116.16" y="977.92" font-size="23.3" transform="scale(1.1050 1)">0.05</text>
<text x="82.50 95.78 102.57 115.87" y="1041.68" font-size="23.3" transform="scale(1.1050 1)">0.04</text>
<text x="82.47 95.75 102.54 116.21" y="1105.45" font-size="23.3" transform="scale(1.1050 1)">0.03</text>
<text x="82.76 96.04 102.83 116.36" y="1169.22" font-size="23.3" transform="scale(1.1050 1)">0.02</text>
<text x="94.68 109.02 116.86 129.78" y="1232.98" font-size="23.3">0.01</text>
<text x="1905.24 1918.52 1925.31 1938.89" y="917.35" font-size="23.3" transform="scale(1.1050 1)">0.06</text>
<text x="1905.24 1918.52 1925.31 1938.75" y="981.12" font-size="23.3" transform="scale(1.1050 1)">0.05</text>
<text x="1905.24 1918.52 1925.31 1938.61" y="1044.88" font-size="23.3" transform="scale(1.1050 1)">0.04</text>
<text x="1905.24 1918.52 1925.31 1938.98" y="1108.65" font-size="23.3" transform="scale(1.1050 1)">0.03</text>
<text x="1905.24 1918.52 1925.31 1938.84" y="1172.42" font-size="23.3" transform="scale(1.1050 1)">0.02</text>
<text x="2105.39 2119.72 2127.57 2140.48" y="1236.18" font-size="23.3">0.01</text>
<path d="M210.08 1544.95v-13.8M293.06 1544.95v-13.8M376.03 1544.95v-13.8M459.01 1544.95v-13.8M541.98 1544.95v-13.8M624.96 1544.95v-13.8M707.94 1544.95v-13.8M790.91 1544.95v-13.8M873.89 1544.95v-13.8M956.86 1544.95v-13.8M1039.84 1544.95v-13.8M1122.82 1544.95v-13.8M1205.79 1544.95v-13.8M1288.77 1544.95v-13.8M1371.74 1544.95v-13.8M1454.72 1544.95v-13.8M1537.70 1544.95v-13.8M1620.67 1544.95v-13.8M1703.65 1544.95v-13.8M1786.62 1544.95v-13.8M1869.60 1544.95v-13.8M1952.58 1544.95v-13.8M2035.55 1544.95v-13.8M155.55 1369.41h13.8M155.55 1427.93h13.8M155.55 1486.44h13.8" stroke="#000" stroke-width="1.25" fill="none"/>
<rect x="155.55" y="1310.9" width="1934.85" height="234.05" fill="none" stroke="#000" stroke-width="1.3"/>
<text x="100.73 113.88 129.55" y="1317.85" font-size="23.3">100</text>
<text x="106.78 119.13" y="1376.36" font-size="23.3" transform="scale(1.0800 1)">75</text>
<text x="105.31 119.06" y="1434.88" font-size="23.3" transform="scale(1.0800 1)">50</text>
<text x="106.05 119.13" y="1493.39" font-size="23.3" transform="scale(1.0800 1)">25</text>
<text x="119.06" y="1551.90" font-size="23.3" transform="scale(1.0800 1)">0</text>
<text x="2104.53 2117.68 2133.35" y="1321.05" font-size="23.3">100</text>
<text x="1949.08 1961.43" y="1379.56" font-size="23.3" transform="scale(1.0800 1)">75</text>
<text x="1949.34 1963.09" y="1438.08" font-size="23.3" transform="scale(1.0800 1)">50</text>
<text x="1949.11 1962.18" y="1496.59" font-size="23.3" transform="scale(1.0800 1)">25</text>
<text x="1949.37" y="1555.10" font-size="23.3" transform="scale(1.0800 1)">0</text>
<line x1="155.0" x2="173.8" y1="1289.8" y2="1289.8" stroke="#000" stroke-width="1.9"/>
<text x="-0.60 17.61 23.67 38.86 44.92 60.11 75.29 90.47 98.06 111.71 126.89 140.54" y="0.00" font-size="27.3" transform="translate(25.30 394.00) rotate(-90) scale(1.0553 1)">Yielded cost</text>
<text x="-1.69 7.40 27.11 45.32 60.51 69.60 84.78 99.96 115.15 130.33 139.42" y="0.00" font-size="27.3" transform="translate(53.90 391.60) rotate(-90) scale(1.0285 1)">(US$(2020))</text>
<text x="-0.60 17.61 23.67 38.86 44.92 60.11 75.29 90.47 98.06 111.71 126.89 140.54" y="0.00" font-size="27.3" transform="translate(25.30 785.10) rotate(-90) scale(1.0553 1)">Yielded cost</text>
<text x="-1.69 7.40 27.11 45.32 60.51 69.60 84.78 99.96 115.15 130.33 139.42" y="0.00" font-size="27.3" transform="translate(53.90 782.70) rotate(-90) scale(1.0285 1)">(US$(2020))</text>
<text x="-0.60 17.61 23.67 38.86 44.92 60.11 75.29 90.47 98.06 111.71 126.89 140.54" y="0.00" font-size="27.3" transform="translate(25.30 1176.20) rotate(-90) scale(1.0553 1)">Yielded cost</text>
<text x="-1.69 7.40 27.11 45.32 60.51 69.60 84.78 99.96 115.15 130.33 139.42" y="0.00" font-size="27.3" transform="translate(53.90 1173.80) rotate(-90) scale(1.0285 1)">(US$(2020))</text>
<text x="-1.39 18.33 33.51 56.25 71.44 77.50 85.09 92.67 106.32 112.39 127.57 133.63" y="0.00" font-size="27.3" transform="translate(25.30 1507.00) rotate(-90) scale(1.0758 1)">Cumul. yield</text>
<text x="-1.69 7.40 31.67" y="0.00" font-size="27.3" transform="translate(53.90 1445.70) rotate(-90) scale(0.9189 1)">(%)</text>
<text x="235.72 252.21 269.49 286.15" y="176.30" font-size="28.4" transform="scale(1.0622 1)">2003</text>
<text x="264.37 282.33 297.86 312.81" y="567.50" font-size="28.4" transform="scale(0.9613 1)">2012</text>
<text x="235.72 251.83 267.93 284.03" y="958.50" font-size="28.4" transform="scale(1.0622 1)">2020</text>
<text x="247.63 265.83 271.90 277.96 285.55 299.20 314.38 329.57 338.66" y="1504.50" font-size="27.3" transform="scale(1.0372 1)">All years</text>
<text x="920.54 943.28 958.46 973.64 988.83 996.41 1011.59 1025.24 1032.83 1048.01 1057.10 1063.17 1078.35 1093.53 1101.12 1116.30 1125.39 1140.57 1154.22 1169.41 1183.06" y="1752.00" font-size="27.3" transform="scale(1.0603 1)">Manufacturing process</text>
<text x="-1.06 14.48 27.44 40.40 52.05 58.52 66.28 79.24 85.71" y="0.00" font-size="23.3" transform="translate(218.38 1659.80) rotate(-90) scale(1.0406 1)">Substrate</text>
<text x="-1.91 13.63 26.59 31.76 38.24 51.20 62.85" y="0.00" font-size="23.3" transform="translate(301.36 1634.60) rotate(-90) scale(1.0262 1)">Epitaxy</text>
<text x="-0.10 21.89 34.85 41.32 54.28 62.04 68.51 73.69 86.65 98.30 111.26" y="0.00" font-size="23.3" transform="translate(384.33 1676.60) rotate(-90) scale(1.0242 1)">Wafer insp.</text>
<text x="-1.91 14.92 22.67 34.32 40.80 53.76 66.71 79.67 92.63" y="0.00" font-size="23.3" transform="translate(467.31 1660.60) rotate(-90) scale(1.0559 1)">Dry depn.</text>
<text x="-1.91 11.05 16.22 22.70 35.66 48.61 55.09 62.85 74.50 80.97 93.93 106.89 119.84 132.80 140.56" y="0.00" font-size="23.3" transform="translate(550.28 1713.10) rotate(-90) scale(1.0546 1)">Litho (stepper)</text>
<text x="-1.91 11.05 16.22 22.70 35.66 48.61 55.09 62.85 82.26 95.21 106.86 118.51" y="0.00" font-size="23.3" transform="translate(633.26 1686.20) rotate(-90) scale(1.0254 1)">Litho (mask)</text>
<text x="-1.91 14.92 22.67 34.32 40.80 53.76 60.23 71.88" y="0.00" font-size="23.3" transform="translate(716.24 1646.40) rotate(-90) scale(1.0585 1)">Dry etch</text>
<text x="-2.15 4.32 18.56 36.68 43.15 56.11 69.07 82.03 94.99" y="0.00" font-size="23.3" transform="translate(799.21 1661.00) rotate(-90) scale(1.0349 1)">ITO depn.</text>
<text x="-1.91 14.92 22.67 42.08 55.04 61.52 74.47" y="0.00" font-size="23.3" transform="translate(882.19 1640.90) rotate(-90) scale(1.0590 1)">N-metal</text>
<text x="-1.91 13.63 21.39 40.80 53.76 60.23 73.19" y="0.00" font-size="23.3" transform="translate(965.16 1638.00) rotate(-90) scale(1.0390 1)">P-metal</text>
<text x="-1.18 15.64 28.60 41.56 48.03 60.99 72.64 79.12 85.59 105.00 117.96 124.43 137.39" y="0.00" font-size="23.3" transform="translate(1048.14 1708.90) rotate(-90) scale(1.0687 1)">Contact metal</text>
<text x="-0.10 21.89 34.85 41.32 54.28 62.04 68.51 81.47 94.43 107.39 120.35 125.52 138.48" y="0.00" font-size="23.3" transform="translate(1131.12 1715.60) rotate(-90) scale(1.0498 1)">Wafer bonding</text>
<text x="-1.91 13.63 26.59 38.24 49.89 62.85 70.61 75.78 88.74 101.70 106.88 119.83" y="0.00" font-size="23.3" transform="translate(1214.09 1698.40) rotate(-90) scale(1.0679 1)">Backgrinding</text>
<text x="-1.18 15.64 35.05" y="0.00" font-size="23.3" transform="translate(1297.07 1605.20) rotate(-90) scale(0.9521 1)">CMP</text>
<text x="-1.91 14.92 20.09 31.74 36.92 49.88" y="0.00" font-size="23.3" transform="translate(1380.04 1624.10) rotate(-90) scale(1.0745 1)">Dicing</text>
<text x="-1.91 13.63 21.39 34.35 47.31 60.26 66.74 73.21 86.17 97.82" y="0.00" font-size="23.3" transform="translate(1463.02 1664.80) rotate(-90) scale(1.0238 1)">Probe test</text>
<text x="-1.91 13.63 26.59 38.24 49.89 62.85 75.80 88.76 95.24 106.89 119.84 131.49" y="0.00" font-size="23.3" transform="translate(1546.00 1698.50) rotate(-90) scale(1.0182 1)">Package cost</text>
<text x="-1.91 14.92 20.09 33.05 39.52 52.48 58.96 65.43 78.39 90.04" y="0.00" font-size="23.3" transform="translate(1628.97 1664.40) rotate(-90) scale(1.0465 1)">Die attach</text>
<text x="-0.10 21.89 27.07 34.82 47.78 54.26 67.22 80.17 93.13 106.09 111.27 124.22" y="0.00" font-size="23.3" transform="translate(1711.95 1701.60) rotate(-90) scale(1.0569 1)">Wire bonding</text>
<text x="-1.91 13.63 26.59 39.55 51.20 64.15 77.11 90.07" y="0.00" font-size="23.3" transform="translate(1794.92 1658.10) rotate(-90) scale(1.0252 1)">Phosphor</text>
<text x="-1.18 15.64 28.60 36.36 41.54 54.50" y="0.00" font-size="23.3" transform="translate(1877.90 1628.40) rotate(-90) scale(1.0644 1)">Curing</text>
<text x="-1.91 11.05 26.59 43.41 49.89 56.36 69.32 80.97" y="0.00" font-size="23.3" transform="translate(1960.88 1643.10) rotate(-90) scale(0.9728 1)">LED test</text>
<text x="-0.52 13.71 26.67 33.14 46.10" y="0.00" font-size="23.3" transform="translate(2043.85 1610.90) rotate(-90) scale(1.0600 1)">Total</text>
<text x="1.24" y="125.1" font-size="37.2" font-weight="bold" stroke="#000" stroke-width="1.3" stroke-linejoin="round" transform="scale(0.97 1)">a</text>
<text x="0.54" y="521.5" font-size="37.2" font-weight="bold" stroke="#000" stroke-width="1.3" stroke-linejoin="round" transform="scale(1.12 1)">b</text>
<text x="3.21" y="919.3" font-size="37.2" font-weight="bold" stroke="#000" stroke-width="1.3" stroke-linejoin="round" transform="scale(1.12 1)">c</text>
<text x="-0.80" y="1322.5" font-size="37.2" font-weight="bold" stroke="#000" stroke-width="1.3" stroke-linejoin="round" transform="scale(1.12 1)">d</text>
</svg>
</body>
</html>
